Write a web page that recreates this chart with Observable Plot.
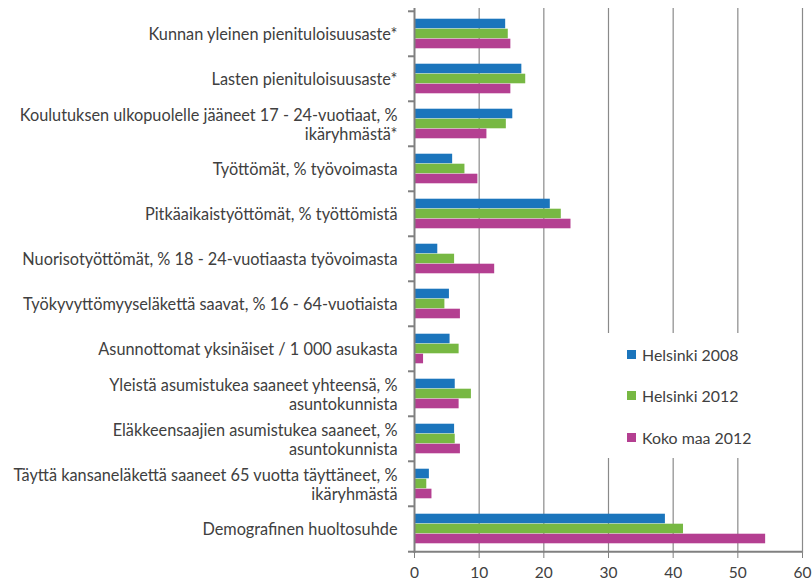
<!DOCTYPE html>
<html>
<head>
<meta charset="utf-8">
<script src="https://cdn.jsdelivr.net/npm/d3@7"></script>
<script src="https://cdn.jsdelivr.net/npm/@observablehq/plot@0.6"></script>
<style>
  html, body { margin: 0; padding: 0; background: white; }
  #wrap { position: relative; width: 812px; height: 585px; }
  #legend { position: absolute; left: 604px; top: 333px; width: 196px; height: 125px; background: white;
            font-family: Lato, sans-serif; font-size: 15.9px; color: #404040; }
  #legend .item { position: absolute; left: 23px; display: flex; align-items: center; height: 18px; }
  #legend .sw { width: 9px; height: 9px; margin-right: 6px; }
  [aria-label^="x-axis"] line, [aria-label^="x-axis"] path { stroke: #808080; }
</style>
</head>
<body>
<div id="wrap"></div>
<script>
const categories = [
  "Kunnan yleinen pienituloisuusaste*",
  "Lasten pienituloisuusaste*",
  "Koulutuksen ulkopuolelle jääneet 17 - 24-vuotiaat, %\nikäryhmästä*",
  "Työttömät, % työvoimasta",
  "Pitkäaikaistyöttömät, % työttömistä",
  "Nuorisotyöttömät, % 18 - 24-vuotiaasta työvoimasta",
  "Työkyvyttömyyseläkettä saavat, % 16 - 64-vuotiaista",
  "Asunnottomat yksinäiset / 1 000 asukasta",
  "Yleistä asumistukea saaneet yhteensä, %\nasuntokunnista",
  "Eläkkeensaajien asumistukea saaneet, %\nasuntokunnista",
  "Täyttä kansaneläkettä saaneet 65 vuotta täyttäneet, %\nikäryhmästä",
  "Demografinen huoltosuhde"
];
const helsinki2008 = [14.1, 16.6, 15.2, 5.9, 21.0, 3.6, 5.4, 5.5, 6.3, 6.2, 2.3, 38.8];
const helsinki2012 = [14.5, 17.2, 14.2, 7.8, 22.7, 6.2, 4.7, 6.9, 8.8, 6.3, 1.9, 41.6];
const kokoMaa2012  = [14.9, 14.9, 11.2, 9.8, 24.2, 12.4, 7.1, 1.4, 6.9, 7.1, 2.7, 54.3];
const seriesNames = ["Helsinki 2008", "Helsinki 2012", "Koko maa 2012"];
const seriesColors = ["#1b75bc", "#77b843", "#b43f91"];
const xTicks = [0, 10, 20, 30, 40, 50, 60];

const W = 812, H = 585, mTop = 8, mBottom = 32, mLeft = 414, mRight = 10;
const bw = (H - mTop - mBottom) / categories.length;
const barH = 10;
const pad = (bw - 3 * barH) / 2;
const seriesValues = [helsinki2008, helsinki2012, kokoMaa2012];

const barMarks = seriesValues.map((vals, i) =>
  Plot.barX(categories.map((c, j) => ({category: c, value: vals[j]})), {
    y: "category", x: "value", fill: seriesColors[i],
    insetTop: pad + i * barH, insetBottom: bw - pad - (i + 1) * barH
  })
);
const last = categories[categories.length - 1];

const chart = Plot.plot({
  width: W, height: H,
  marginLeft: mLeft, marginRight: mRight, marginTop: mTop, marginBottom: mBottom,
  style: {fontFamily: "Lato, sans-serif", fontSize: "15.5px", color: "#404040", background: "white"},
  x: {domain: [0, 60], ticks: xTicks, tickSize: 5, tickPadding: 8, label: null, tickFormat: d => String(d)},
  y: {domain: categories, padding: 0, axis: null},
  marks: [
    Plot.ruleX(xTicks.filter(d => d > 0), {stroke: "#8a8a8a", strokeWidth: 1.2}),
    ...barMarks,
    Plot.ruleX([0], {stroke: "#808080", strokeWidth: 2}),
    Plot.ruleY([last], {y: d => d, dy: bw / 2, stroke: "#808080", strokeWidth: 2}),
    Plot.ruleY(categories, {y: d => d, x1: 0, x2: 0, insetLeft: -6, dy: -bw / 2, stroke: "#808080", strokeWidth: 2}),
    Plot.ruleY([last], {y: d => d, x1: 0, x2: 0, insetLeft: -6, dy: bw / 2, stroke: "#808080", strokeWidth: 2}),
    Plot.text(categories, {y: d => d, text: d => d, frameAnchor: "left", textAnchor: "end", dx: -17,
      fontSize: 16.3, lineHeight: 1.17, fill: "#404040", ariaLabel: "ylabels"})
  ]
});

const wrap = document.getElementById("wrap");
wrap.appendChild(chart);

// center multi-line labels relative to each other, block right-aligned
d3.select(chart).selectAll('g[aria-label="ylabels"] text').each(function() {
  const tspans = this.querySelectorAll("tspan");
  if (tspans.length > 1) {
    let maxW = 0;
    tspans.forEach(t => { maxW = Math.max(maxW, t.getComputedTextLength()); });
    this.setAttribute("text-anchor", "middle");
    tspans.forEach(t => t.setAttribute("x", -maxW / 2));
  }
});

// legend
const legend = document.createElement("div");
legend.id = "legend";
const itemTops = [12, 53, 95];
seriesNames.forEach((name, i) => {
  const item = document.createElement("div");
  item.className = "item";
  item.style.top = itemTops[i] + "px";
  const sw = document.createElement("span");
  sw.className = "sw";
  sw.style.background = seriesColors[i];
  const t = document.createElement("span");
  t.textContent = name;
  item.appendChild(sw); item.appendChild(t);
  legend.appendChild(item);
});
wrap.appendChild(legend);
</script>
</body>
</html>
